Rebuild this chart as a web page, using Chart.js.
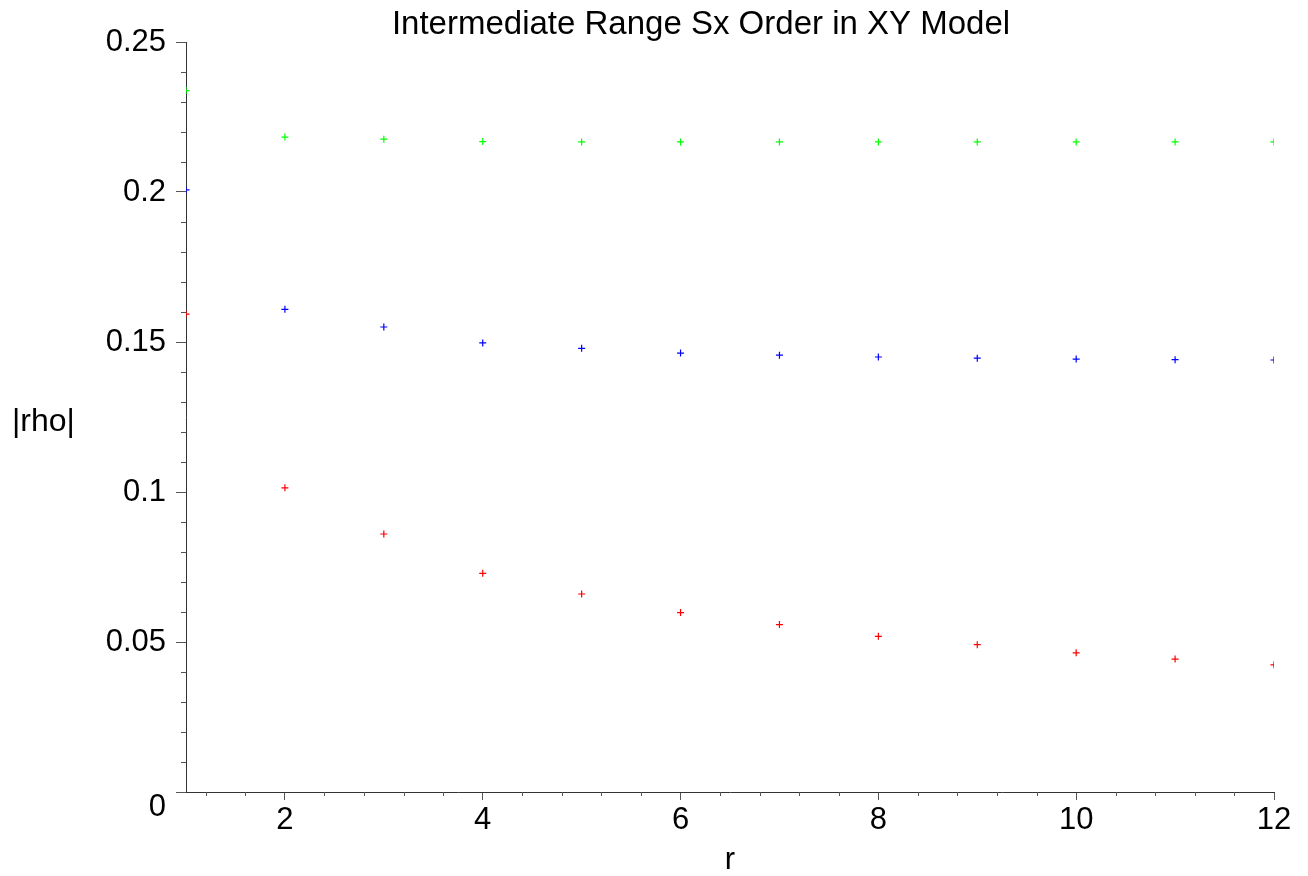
<!DOCTYPE html>
<html>
<head>
<meta charset="utf-8">
<script src="https://cdn.jsdelivr.net/npm/chart.js@4"></script>
<style>
  html, body { margin: 0; padding: 0; background: #fff; }
  #wrap { width: 1308px; height: 876px; }
</style>
</head>
<body>
<div id="wrap"><canvas id="plotCanvas"></canvas></div>
<script>
// values
const rValues = [1, 2, 3, 4, 5, 6, 7, 8, 9, 10, 11, 12];
const greenRho = [0.2338, 0.2183, 0.2176, 0.2168, 0.2167, 0.2167, 0.2167, 0.2167, 0.2167, 0.2167, 0.2167, 0.2167];
const blueRho = [0.2007, 0.1609, 0.1550, 0.1497, 0.1479, 0.1463, 0.1456, 0.1450, 0.1446, 0.1443, 0.1441, 0.1440];
const redRho = [0.1593, 0.1014, 0.0860, 0.0729, 0.0660, 0.0598, 0.0558, 0.0519, 0.0491, 0.0464, 0.0443, 0.0424];
const xTicks = [2, 4, 6, 8, 10, 12];
const yTicks = [0, 0.05, 0.1, 0.15, 0.2, 0.25];
const titleText = "Intermediate Range Sx Order in XY Model";
const xTitle = "r";
const yTitle = "|rho|";

const fontFamily = "'Liberation Sans', Arial, sans-serif";

function toPoints(ys) {
  return ys.map((y, i) => ({ x: rValues[i], y: y }));
}

function makeSet(ys, color) {
  return {
    data: toPoints(ys),
    showLine: false,
    pointStyle: "cross",
    pointRadius: 3.5,
    pointHoverRadius: 3.5,
    pointBorderWidth: 1.2,
    borderColor: color,
    backgroundColor: color,
  };
}

// minor ticks, title and horizontal y label
const extrasPlugin = {
  id: "extras",
  afterDraw(chart) {
    const ctx = chart.ctx;
    const xs = chart.scales.x;
    const ys = chart.scales.y;
    const area = chart.chartArea;
    ctx.save();
    ctx.strokeStyle = "#555";
    ctx.lineWidth = 1;
    ctx.beginPath();
    for (let v = 0.4; v < 12; v += 0.4) {
      const val = Math.round(v * 10) / 10;
      if (val < 1 || Number.isInteger(val / 2)) continue;
      const px = Math.round(xs.getPixelForValue(val)) + 0.5;
      ctx.moveTo(px, area.bottom);
      ctx.lineTo(px, area.bottom + 4);
    }
    for (let k = 1; k < 25; k++) {
      if (k % 5 === 0) continue;
      const py = Math.round(ys.getPixelForValue(k / 100)) + 0.5;
      ctx.moveTo(area.left, py);
      ctx.lineTo(area.left - 5, py);
    }
    ctx.stroke();

    ctx.fillStyle = "#000";
    ctx.font = "33px " + fontFamily;
    ctx.textAlign = "center";
    ctx.textBaseline = "alphabetic";
    ctx.fillText(titleText, 701, 34);
    ctx.font = "32px " + fontFamily;
    ctx.textAlign = "left";
    ctx.fillText(yTitle, 12, 431);
    ctx.restore();
  },
};

new Chart(document.getElementById("plotCanvas"), {
  type: "scatter",
  data: {
    datasets: [makeSet(redRho, "#ff0000"), makeSet(blueRho, "#0000ff"), makeSet(greenRho, "#00ff00")],
  },
  options: {
    responsive: true,
    maintainAspectRatio: false,
    animation: false,
    events: [],
    layout: { padding: { top: 42, right: 34, left: 0, bottom: 0 } },
    plugins: {
      legend: { display: false },
      tooltip: { enabled: false },
      title: { display: false },
    },
    scales: {
      x: {
        type: "linear",
        min: 1,
        max: 12,
        afterBuildTicks: (scale) => {
          scale.ticks = xTicks.map((v) => ({ value: v }));
        },
        afterFit: (scale) => {
          scale.height = 84;
        },
        grid: { drawOnChartArea: false, tickLength: 8, tickColor: "#555" },
        border: { display: true, color: "#333", width: 1 },
        ticks: {
          color: "#000",
          padding: 2,
          maxRotation: 0,
          autoSkip: false,
          font: { family: fontFamily, size: 31 },
        },
        title: {
          display: true,
          text: xTitle,
          color: "#000",
          padding: { top: 0, bottom: 0 },
          font: { family: fontFamily, size: 31, lineHeight: 1.0 },
        },
      },
      y: {
        type: "linear",
        min: 0,
        max: 0.25,
        afterBuildTicks: (scale) => {
          scale.ticks = yTicks.map((v) => ({ value: v }));
        },
        afterFit: (scale) => {
          scale.width = 186;
        },
        grid: { drawOnChartArea: false, tickLength: 10, tickColor: "#555" },
        border: { display: true, color: "#333", width: 1 },
        ticks: {
          color: "#000",
          padding: 10,
          autoSkip: false,
          font: { family: fontFamily, size: 31, lineHeight: 1.0 },
          callback: (v) => (v === 0 ? ["", "0"] : String(v)),
        },
      },
    },
  },
  plugins: [extrasPlugin],
});
</script>
</body>
</html>
